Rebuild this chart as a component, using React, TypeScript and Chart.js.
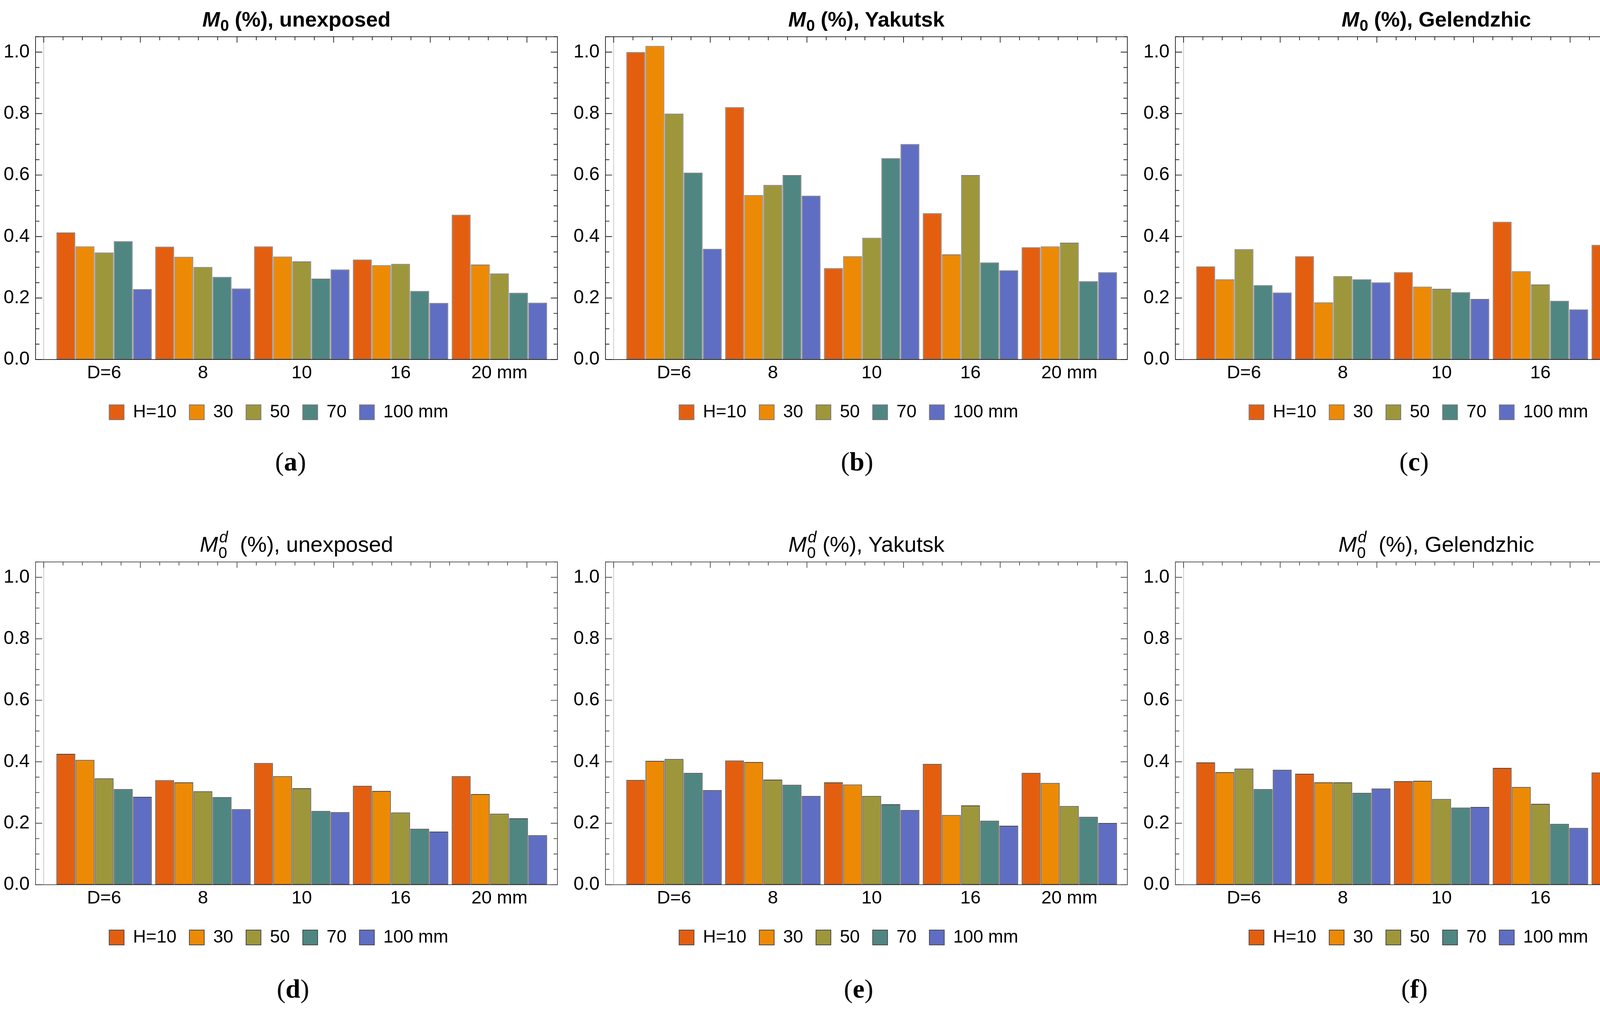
import React, { useEffect, useRef } from "react";
import { Chart, registerables } from "chart.js";

Chart.register(...registerables);

// ---------- data ----------
const CATEGORIES = ["D=6", "8", "10", "16", "20 mm"];
const GROUP_X = [1, 2, 3, 4, 5];
const SERIES_LABELS = ["H=10", "30", "50", "70", "100 mm"];
const SERIES_COLORS = ["#E45E10", "#ED8A05", "#9E963B", "#4F8682", "#5F6EC2"];
const Y_TICKS = [0, 0.2, 0.4, 0.6, 0.8, 1.0];
const Y_MAX = 1.05;
const Y_MINOR_STEP = 0.05;

// values: [series H=10, 30, 50, 70, 100][category D=6, 8, 10, 16, 20]
const M0_UNEXPOSED = [
  [0.413, 0.367, 0.368, 0.325, 0.471],
  [0.368, 0.334, 0.335, 0.307, 0.309],
  [0.348, 0.301, 0.319, 0.311, 0.28],
  [0.385, 0.269, 0.263, 0.223, 0.217],
  [0.229, 0.231, 0.293, 0.184, 0.185],
];
const M0_YAKUTSK = [
  [1.0, 0.821, 0.297, 0.476, 0.365],
  [1.02, 0.535, 0.336, 0.342, 0.368],
  [0.8, 0.568, 0.396, 0.6, 0.38],
  [0.608, 0.6, 0.655, 0.316, 0.255],
  [0.36, 0.533, 0.701, 0.29, 0.284],
];
const M0_GELENDZHIC = [
  [0.303, 0.336, 0.284, 0.448, 0.373],
  [0.261, 0.186, 0.237, 0.287, 0.317],
  [0.359, 0.271, 0.23, 0.244, 0.24],
  [0.242, 0.261, 0.219, 0.191, 0.2],
  [0.218, 0.251, 0.197, 0.163, 0.173],
];
const M0D_UNEXPOSED = [
  [0.426, 0.34, 0.396, 0.322, 0.353],
  [0.406, 0.333, 0.353, 0.305, 0.295],
  [0.346, 0.304, 0.314, 0.235, 0.231],
  [0.311, 0.285, 0.24, 0.182, 0.216],
  [0.286, 0.246, 0.236, 0.173, 0.161],
];
const M0D_YAKUTSK = [
  [0.341, 0.404, 0.333, 0.393, 0.364],
  [0.403, 0.399, 0.326, 0.227, 0.331],
  [0.409, 0.342, 0.289, 0.258, 0.256],
  [0.364, 0.325, 0.262, 0.208, 0.221],
  [0.308, 0.289, 0.243, 0.192, 0.201],
];
const M0D_GELENDZHIC = [
  [0.398, 0.361, 0.337, 0.38, 0.365],
  [0.366, 0.333, 0.338, 0.318, 0.319],
  [0.378, 0.333, 0.279, 0.263, 0.259],
  [0.311, 0.299, 0.251, 0.198, 0.212],
  [0.374, 0.313, 0.253, 0.185, 0.195],
];

// ---------- x-scale geometry (group index units) ----------
const X_MIN = 0.3063;
const X_MAX = 5.587;
const AXIS_LINE_X = 0.389;
const TOP_TICK_STEP = 0.19557;

// ---------- layout ----------
const SANS = '"Liberation Sans", Arial, sans-serif';
const SERIF = '"Liberation Serif", "Times New Roman", serif';
const CANVAS_W = 1450;
const CANVAS_H = 1004;
const PANEL_LEFTS = [0, 1459, 2918];
const FRAME_LEFT = 91;
const FRAME_W = 1336;

function makeFramePlugin(frameColor: string) {
  return {
    id: "mmaFrame",
    beforeDatasetsDraw(chart: any) {
      const { ctx, chartArea } = chart;
      const px = chart.scales.x.getPixelForValue(AXIS_LINE_X);
      ctx.save();
      ctx.strokeStyle = "#cccccc";
      ctx.lineWidth = 2;
      ctx.beginPath();
      ctx.moveTo(px, chartArea.top);
      ctx.lineTo(px, chartArea.bottom);
      ctx.stroke();
      ctx.restore();
    },
    afterDatasetsDraw(chart: any) {
      const { ctx, chartArea } = chart;
      const { left, right, top, bottom } = chartArea;
      const ys = chart.scales.y;
      const xs = chart.scales.x;
      ctx.save();
      ctx.strokeStyle = frameColor;
      ctx.lineWidth = 1.6;
      ctx.strokeRect(left, top, right - left, bottom - top);
      ctx.beginPath();
      for (let i = 0; i * Y_MINOR_STEP <= Y_MAX + 1e-9; i++) {
        const v = i * Y_MINOR_STEP;
        const py = ys.getPixelForValue(v);
        const major = i % 4 === 0;
        const len = major ? 17 : 10;
        ctx.moveTo(left, py);
        ctx.lineTo(left + len, py);
        ctx.moveTo(right, py);
        ctx.lineTo(right - len, py);
      }
      for (let k = 0; AXIS_LINE_X + k * TOP_TICK_STEP <= X_MAX; k++) {
        const px = xs.getPixelForValue(AXIS_LINE_X + k * TOP_TICK_STEP);
        const len = k % 5 === 0 ? 15 : 9;
        ctx.moveTo(px, top);
        ctx.lineTo(px, top + len);
      }
      ctx.stroke();
      ctx.restore();
    },
  };
}

type PanelProps = {
  left: number;
  top: number;
  values: number[][];
  barBorder: string;
  frameColor: string;
};

function Panel({ left, top, values, barBorder, frameColor }: PanelProps) {
  const ref = useRef<HTMLCanvasElement | null>(null);
  useEffect(() => {
    const canvas = ref.current;
    if (!canvas) return;
    const chart = new Chart(canvas, {
      type: "bar",
      data: {
        datasets: SERIES_LABELS.map((label, s) => ({
          label,
          data: GROUP_X.map((x, i) => ({ x, y: values[s][i] })),
          backgroundColor: SERIES_COLORS[s],
          borderColor: barBorder,
          borderWidth: 2,
          borderSkipped: false,
          categoryPercentage: 0.968,
          barPercentage: 0.985,
        })),
      },
      options: {
        animation: false,
        responsive: false,
        devicePixelRatio: 1,
        layout: { padding: { top: 10, right: 23, bottom: 0, left: 0 } },
        plugins: {
          title: { display: false },
          tooltip: { enabled: false },
          legend: {
            display: true,
            position: "bottom",
            labels: {
              boxWidth: 38,
              boxHeight: 38,
              padding: 33,
              color: "#000",
              font: { size: 46, family: SANS },
            },
          },
        },
        scales: {
          x: {
            type: "linear",
            min: X_MIN,
            max: X_MAX,
            offset: false,
            grid: { display: false, drawTicks: false },
            border: { display: false },
            afterBuildTicks: (s: any) => {
              s.ticks = GROUP_X.map((v) => ({ value: v }));
            },
            afterFit: (s: any) => {
              s.height = 79;
              s.paddingLeft = 0;
              s.paddingRight = 0;
            },
            ticks: {
              autoSkip: false,
              maxRotation: 0,
              minRotation: 0,
              padding: 7,
              color: "#000",
              font: { size: 47, family: SANS },
              callback: (_v: any, i: number) => CATEGORIES[i],
            },
          },
          y: {
            min: 0,
            max: Y_MAX,
            grid: { display: false, drawTicks: false },
            border: { display: false },
            afterBuildTicks: (s: any) => {
              s.ticks = Y_TICKS.map((v) => ({ value: v }));
            },
            afterFit: (s: any) => {
              s.width = FRAME_LEFT;
              s.paddingTop = 0;
              s.paddingBottom = 0;
            },
            ticks: {
              padding: 15,
              color: "#000",
              font: { size: 48, family: SANS },
              callback: (v: any) => Number(v).toFixed(1),
            },
          },
        },
      } as any,
      plugins: [makeFramePlugin(frameColor)],
    });
    return () => chart.destroy();
  }, [values, barBorder, frameColor]);
  return (
    <canvas
      ref={ref}
      width={CANVAS_W}
      height={CANVAS_H}
      style={{ position: "absolute", left, top, width: CANVAS_W, height: CANVAS_H }}
    />
  );
}

function TopTitle({ left, place }: { left: number; place: string }) {
  return (
    <div
      style={{
        position: "absolute",
        left: left + FRAME_LEFT,
        width: FRAME_W,
        top: 49 - 35,
        height: 70,
        lineHeight: "70px",
        textAlign: "center",
        fontFamily: SANS,
        fontWeight: "bold",
        fontSize: 54,
        color: "#000",
        whiteSpace: "pre",
      }}
    >
      <i>M</i>
      <span style={{ position: "relative", display: "inline-block", width: 23, height: 0 }}>
        <span style={{ position: "absolute", left: 1, top: -23, fontSize: 40, lineHeight: "40px" }}>0</span>
      </span>
      {" (%), " + place}
    </div>
  );
}

function BottomTitle({ left, place, gap }: { left: number; place: string; gap: string }) {
  return (
    <div
      style={{
        position: "absolute",
        left: left + FRAME_LEFT,
        width: FRAME_W,
        top: 1393 - 35,
        height: 70,
        lineHeight: "70px",
        textAlign: "center",
        fontFamily: SANS,
        fontWeight: "normal",
        fontSize: 56,
        color: "#000",
        whiteSpace: "pre",
      }}
    >
      <i>M</i>
      <span style={{ position: "relative", display: "inline-block", width: 25, height: 0 }}>
        <span style={{ position: "absolute", left: 3, top: -58, fontSize: 40, lineHeight: "40px", fontStyle: "italic" }}>d</span>
        <span style={{ position: "absolute", left: 1, top: -18, fontSize: 40, lineHeight: "40px" }}>0</span>
      </span>
      {gap + "(%), " + place}
    </div>
  );
}

function Caption({ cx, cy, letter }: { cx: number; cy: number; letter: string }) {
  return (
    <div
      style={{
        position: "absolute",
        left: cx - 100,
        width: 200,
        top: cy - 40,
        height: 80,
        lineHeight: "80px",
        textAlign: "center",
        fontFamily: SERIF,
        fontSize: 68,
        color: "#000",
      }}
    >
      (<b>{letter}</b>)
    </div>
  );
}

export default function App() {
  const TOP_CANVAS = 84;
  const BOTTOM_CANVAS = 1428;
  const topBorder = "#7a7a7a";
  const bottomBorder = "#4a4a4a";
  return (
    <div
      style={{
        position: "absolute",
        left: 0,
        top: 0,
        width: 4368,
        height: 2582,
        overflow: "hidden",
        background: "#ffffff",
      }}
    >
      <Panel left={PANEL_LEFTS[0]} top={TOP_CANVAS} values={M0_UNEXPOSED} barBorder={topBorder} frameColor="#000" />
      <Panel left={PANEL_LEFTS[1]} top={TOP_CANVAS} values={M0_YAKUTSK} barBorder={topBorder} frameColor="#000" />
      <Panel left={PANEL_LEFTS[2]} top={TOP_CANVAS} values={M0_GELENDZHIC} barBorder={topBorder} frameColor="#000" />
      <Panel left={PANEL_LEFTS[0]} top={BOTTOM_CANVAS} values={M0D_UNEXPOSED} barBorder={bottomBorder} frameColor="#333" />
      <Panel left={PANEL_LEFTS[1]} top={BOTTOM_CANVAS} values={M0D_YAKUTSK} barBorder={bottomBorder} frameColor="#333" />
      <Panel left={PANEL_LEFTS[2]} top={BOTTOM_CANVAS} values={M0D_GELENDZHIC} barBorder={bottomBorder} frameColor="#333" />

      <TopTitle left={PANEL_LEFTS[0]} place="unexposed" />
      <TopTitle left={PANEL_LEFTS[1]} place="Yakutsk" />
      <TopTitle left={PANEL_LEFTS[2]} place="Gelendzhic" />
      <BottomTitle left={PANEL_LEFTS[0]} place="unexposed" gap={"\u00a0\u00a0"} />
      <BottomTitle left={PANEL_LEFTS[1]} place="Yakutsk" gap={" "} />
      <BottomTitle left={PANEL_LEFTS[2]} place="Gelendzhic" gap={"\u00a0\u00a0"} />

      <Caption cx={744} cy={1181} letter="a" />
      <Caption cx={1459 + 735} cy={1181} letter="b" />
      <Caption cx={2918 + 702} cy={1181} letter="c" />
      <Caption cx={750} cy={2530} letter="d" />
      <Caption cx={1459 + 739} cy={2530} letter="e" />
      <Caption cx={2918 + 703} cy={2530} letter="f" />
    </div>
  );
}
